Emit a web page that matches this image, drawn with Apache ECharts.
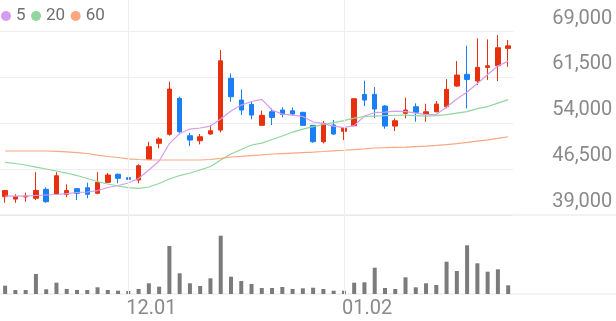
<!DOCTYPE html>
<html><head><meta charset="utf-8">
<script src="https://cdn.jsdelivr.net/npm/echarts@6/dist/echarts.min.js"></script>
<style>html,body{margin:0;padding:0;background:#fff}#c{width:616px;height:321px}</style>
</head><body><div id="c"></div>
<script>
const dates = ['11.15','11.16','11.17','11.18','11.21','11.22','11.23','11.24','11.25','11.28','11.29','11.30',
  '12.01','12.02','12.05','12.06','12.07','12.08','12.09','12.12','12.13','12.14','12.15','12.16','12.19','12.20',
  '12.21','12.22','12.23','12.26','12.27','12.28','12.29','01.02','01.03','01.04','01.05','01.06','01.09','01.10',
  '01.11','01.12','01.13','01.16','01.17','01.18','01.19','01.20','01.25','01.26'];
const xTickLabels = ['12.01','01.02'];
const maNames = ['5', '20', '60'];
const opens  = [42000,41600,41950,41730,43200,42430,42380,43300,43460,42550,44340,45650,45100,44720,48100,50720,52190,58070,51960,51140,52240,52890,61340,57790,57090,53660,55880,56160,56040,55780,53660,50980,53710,52680,53590,58720,58720,56810,53540,55620,56700,55500,55880,56700,60080,61990,60900,63130,63400,66240];
const closes = [43000,42000,42100,43000,41170,45420,43000,42550,42380,44340,45540,45000,44830,47060,50160,51420,59590,52610,51250,51790,52770,64210,58330,56160,55340,55290,54960,55450,55500,53660,50980,53980,52240,53170,58010,57790,56320,53540,54410,56160,55780,55880,57140,59540,61880,61170,63130,63400,66340,66660];
const lows   = [41000,41000,41170,41450,41000,42300,41900,41450,41730,42400,44230,44180,43790,44180,47990,49900,51960,52450,50270,50550,52120,52510,57510,55340,54640,53660,53710,54960,55180,53540,50810,50720,52070,51250,53590,56810,54850,53100,52730,54800,54250,54250,55780,56430,59960,56430,60240,61060,60900,63230];
const highs  = [43100,42400,42650,46000,43530,46000,44020,43400,44280,46000,45860,45780,45700,47290,50980,51700,60780,58330,52450,52240,53710,65960,62150,59540,57630,56050,56440,56600,56600,55880,53710,54360,54520,53220,58010,60940,59920,56970,54800,58170,57250,57190,57630,61220,64160,66660,67870,67710,68410,67600];
const ma5  = [42100,42100,42100,42190,42270,42350,42510,42680,42760,43000,43490,43820,44230,44960,46350,47820,50680,52320,53050,53220,53540,54690,55990,56970,57550,57900,56160,55500,55340,55100,54200,53950,53540,53300,53620,55180,55750,55830,55990,55910,55670,55420,55420,56650,57950,59100,60490,61960,63350,64160];
const ma20 = [47610,47420,47170,46840,46520,46190,45860,45450,44960,44470,44070,43740,43490,43360,43580,44150,44880,45450,45860,46350,46920,47990,48970,49700,50440,50760,51340,51910,52560,53050,53460,53790,54110,54440,54850,55100,55180,55260,55310,55340,55260,55180,55260,55420,55670,55910,56400,56730,57300,57870];
const ma60 = [49460,49460,49460,49460,49460,49410,49330,49210,49050,48800,48560,48400,48180,48070,48020,47990,47990,47990,47990,47990,48070,48260,48480,48590,48720,48840,48970,49050,49130,49210,49290,49380,49490,49590,49700,49820,49950,50000,50060,50110,50190,50270,50390,50520,50680,50880,51090,51290,51530,51790];
const volumes = [83000,40000,40000,200000,47000,113000,50000,40000,40000,67000,40000,33000,30000,50000,107000,73000,480000,207000,107000,80000,157000,583000,173000,130000,100000,60000,60000,70000,50000,57000,63000,50000,33000,33000,113000,117000,263000,60000,50000,167000,67000,107000,90000,323000,230000,487000,307000,223000,247000,87000];
const priceMin = 39000, priceMax = 69000, priceStep = 7500;

const candleData = dates.map((d, i) => [opens[i], closes[i], lows[i], highs[i]]);
const chart = echarts.init(document.getElementById('c'), null, {renderer: 'canvas'});
const FONT = 'Roboto';
const plotW = 513.3;
const labelFn = (i, v) => xTickLabels.includes(v);
const legendText = {fontSize: 17, lineHeight: 20, color: '#6f6f6f', fontFamily: FONT};

chart.setOption({
  animation: false,
  backgroundColor: '#ffffff',
  legend: {
    show: true, left: 1, top: 6, padding: 0, itemWidth: 10, itemHeight: 10, itemGap: 5.5, icon: 'circle',
    textStyle: legendText,
    data: maNames
  },
  grid: [
    {left: 0, top: 31.5, width: plotW, height: 183.5},
    {left: 0, top: 232, width: plotW, height: 62},
    {left: 0, top: 0, width: plotW, height: 294}
  ],
  xAxis: [
    {type: 'category', gridIndex: 0, data: dates, boundaryGap: true,
     axisLine: {show: false}, axisTick: {show: false}, axisLabel: {show: false}, splitLine: {show: false}},
    {type: 'category', gridIndex: 1, data: dates, boundaryGap: true,
     axisLine: {show: false}, axisTick: {show: false}, splitLine: {show: false},
     axisLabel: {interval: labelFn, fontSize: 20, color: '#8a8a8a', margin: 5, align: 'left', padding: [0,0,0,-2], fontFamily: FONT}},
    {type: 'category', gridIndex: 2, data: dates, boundaryGap: true, show: false}
  ],
  yAxis: [
    {type: 'value', gridIndex: 0, position: 'right', min: priceMin, max: priceMax, interval: priceStep, scale: true,
     axisLine: {show: false}, axisTick: {show: false},
     splitLine: {show: true, lineStyle: {color: '#eeeeee', width: 1}},
     axisLabel: {align: 'right', margin: 99, fontSize: 20, color: '#8a8a8a', fontFamily: FONT,
       verticalAlign: 'bottom', padding: [0, 0, 3, 0],
       formatter: v => v.toLocaleString('en-US')}},
    {type: 'value', gridIndex: 1, min: 0, max: 620000, show: false},
    {type: 'value', gridIndex: 2, min: 0, max: 1, show: false}
  ],
  graphic: [
    {type: 'line', shape: {x1: 0, y1: 215, x2: 616, y2: 215}, style: {stroke: '#e6e6e6', lineWidth: 1}, z: 1},
    {type: 'line', shape: {x1: 0, y1: 294, x2: 616, y2: 294}, style: {stroke: '#e6e6e6', lineWidth: 1}, z: 1}
  ],
  series: [
    {type: 'line', xAxisIndex: 2, yAxisIndex: 2, data: [], z: 0, silent: true,
     markLine: {symbol: 'none', silent: true, label: {show: false},
       lineStyle: {color: '#eeeeee', type: 'solid', width: 1},
       data: xTickLabels.map(v => ({xAxis: v}))}},
    {name: 'candle', type: 'candlestick', xAxisIndex: 0, yAxisIndex: 0, data: candleData, barWidth: 5,
     itemStyle: {color: '#e8300f', color0: '#1a7ef5', borderColor: '#e8300f', borderColor0: '#1a7ef5', borderWidth: 1}},
    {name: maNames[0], type: 'line', xAxisIndex: 0, yAxisIndex: 0, data: ma5, symbol: 'none', z: 3,
     lineStyle: {color: '#d59cf0', width: 1.2}, itemStyle: {color: '#d59cf0'}},
    {name: maNames[1], type: 'line', xAxisIndex: 0, yAxisIndex: 0, data: ma20, symbol: 'none', z: 3,
     lineStyle: {color: '#8fd79d', width: 1.2}, itemStyle: {color: '#8fd79d'}},
    {name: maNames[2], type: 'line', xAxisIndex: 0, yAxisIndex: 0, data: ma60, symbol: 'none', z: 3,
     lineStyle: {color: '#f8a780', width: 1.2}, itemStyle: {color: '#f8a780'}},
    {name: 'vol', type: 'bar', xAxisIndex: 1, yAxisIndex: 1, data: volumes, barWidth: 4,
     itemStyle: {color: '#7b7b7b'}}
  ]
});
</script></body></html>
